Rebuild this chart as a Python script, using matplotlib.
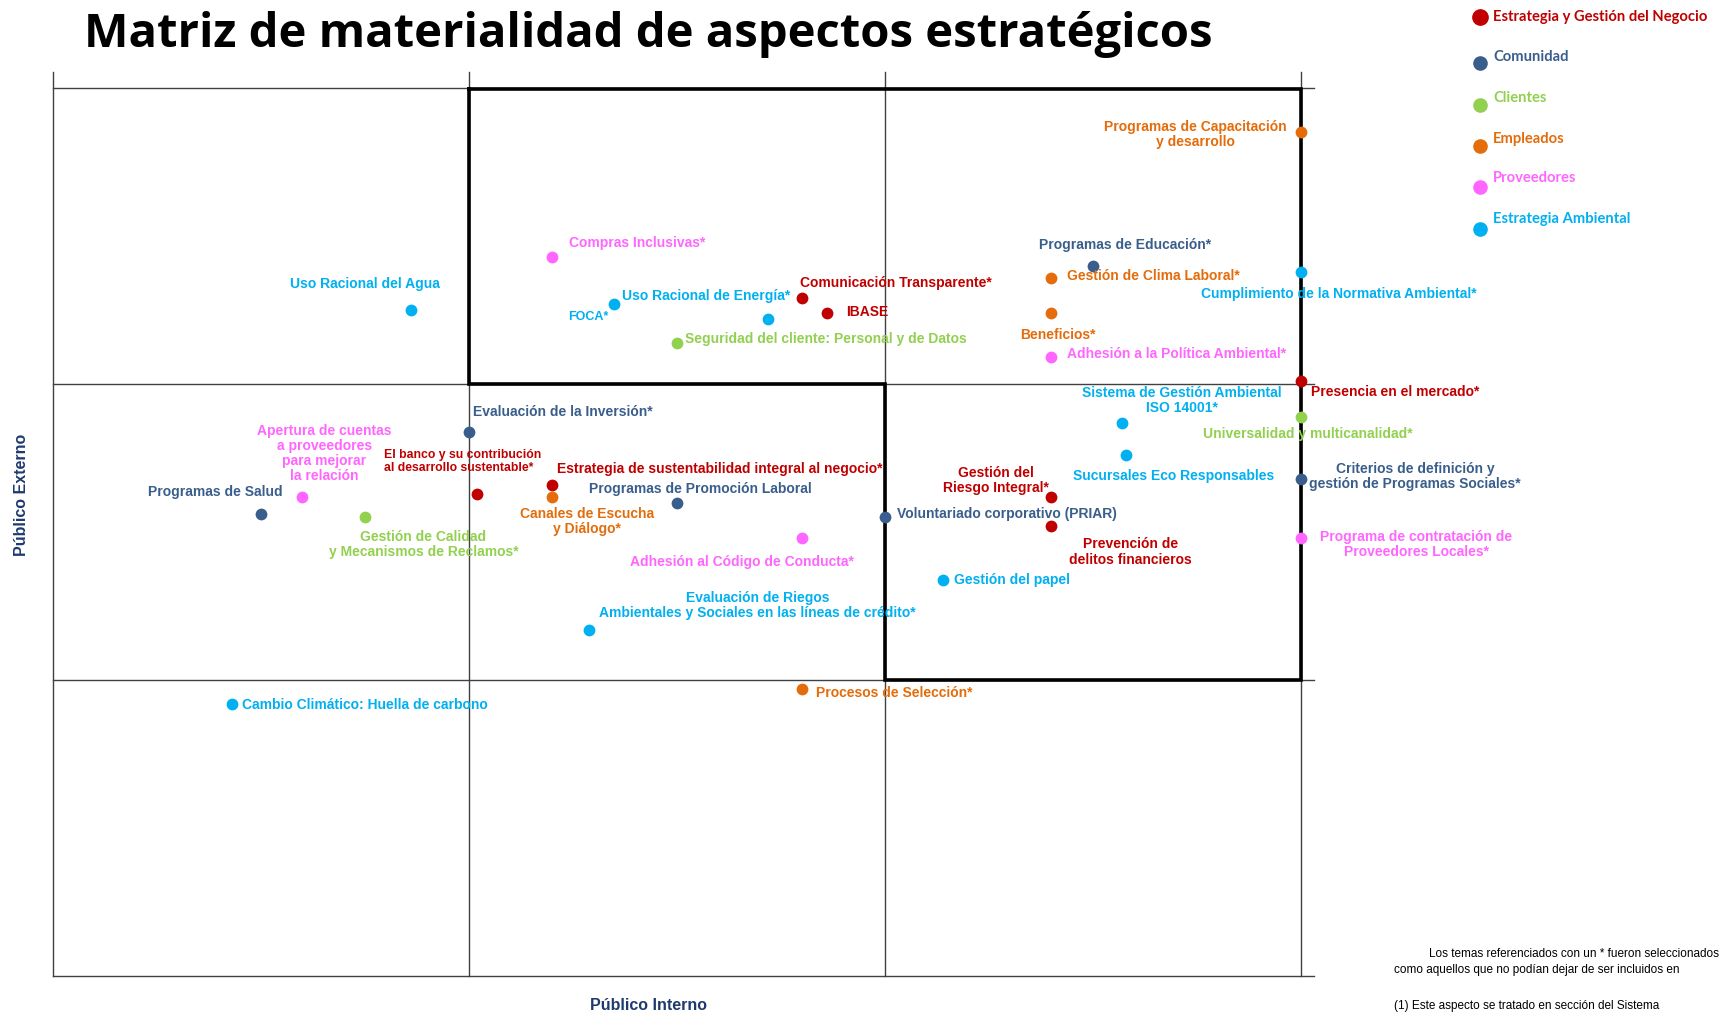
import matplotlib
matplotlib.use("Agg")
import matplotlib.pyplot as plt

plt.rcParams['font.family'] = ['Liberation Sans', 'DejaVu Sans']

# Categories (legend) and colours
categories = ['Estrategia y Gestión del Negocio', 'Comunidad', 'Clientes',
              'Empleados', 'Proveedores', 'Estrategia Ambiental']
cat_colors = ['#C00000', '#3A5E8C', '#92D050', '#E46C0A', '#FF66FF', '#00B0F0']

# Aspects: label, category index, Público Interno (x), Público Externo (y)
labels = [
    'Programas de Capacitación\ny desarrollo',
    'Compras Inclusivas*',
    'Programas de Educación*',
    'Gestión de Clima Laboral*',
    'Cumplimiento de la Normativa Ambiental*',
    'Uso Racional del Agua',
    'Uso Racional de Energía*',
    'FOCA*',
    'Comunicación Transparente*',
    'IBASE',
    'Seguridad del cliente: Personal y de Datos',
    'Beneficios*',
    'Adhesión a la Política Ambiental*',
    'Presencia en el mercado*',
    'Evaluación de la Inversión*',
    'Sistema de Gestión Ambiental\nISO 14001*',
    'Universalidad y multicanalidad*',
    'Sucursales Eco Responsables',
    'Criterios de definición y\ngestión de Programas Sociales*',
    'El banco y su contribución\nal desarrollo sustentable*',
    'Estrategia de sustentabilidad integral al negocio*',
    'Canales de Escucha\ny Diálogo*',
    'Programas de Promoción Laboral',
    'Apertura de cuentas\na proveedores\npara mejorar\nla relación',
    'Programas de Salud',
    'Gestión de Calidad\ny Mecanismos de Reclamos*',
    'Gestión del\nRiesgo Integral*',
    'Voluntariado corporativo (PRIAR)',
    'Prevención de\ndelitos financieros',
    'Adhesión al Código de Conducta*',
    'Programa de contratación de\nProveedores Locales*',
    'Gestión del papel',
    'Evaluación de Riegos\nAmbientales y Sociales en las líneas de crédito*',
    'Cambio Climático: Huella de carbono',
    'Procesos de Selección*',
]
category = [3, 4, 1, 3, 5, 5, 5, 5, 0, 0, 2, 3, 4, 0, 1, 5, 2, 5, 1, 0,
            0, 3, 1, 4, 1, 2, 0, 1, 0, 4, 4, 5, 5, 5, 3]
interno = [3.00, 1.20, 2.50, 2.40, 3.00, 0.86, 1.35, 1.72, 1.80, 1.86,
           1.50, 2.40, 2.40, 3.00, 1.00, 2.57, 3.00, 2.58, 3.00, 1.02,
           1.20, 1.20, 1.50, 0.60, 0.50, 0.75, 2.40, 2.00, 2.40, 1.80,
           3.00, 2.14, 1.29, 0.43, 1.80]
externo = [2.85, 2.43, 2.40, 2.36, 2.38, 2.25, 2.27, 2.22, 2.29, 2.24,
           2.14, 2.24, 2.09, 2.01, 1.84, 1.87, 1.89, 1.76, 1.68, 1.63,
           1.66, 1.62, 1.60, 1.62, 1.56, 1.55, 1.62, 1.55, 1.52, 1.48,
           1.48, 1.34, 1.17, 0.92, 0.97]

# label anchor (x, y, ha) in data units
label_pos = [
    (2.746, 2.842, 'center'), (1.240, 2.477, 'left'), (2.577, 2.469, 'center'),
    (2.437, 2.365, 'left'), (2.760, 2.306, 'left'), (0.751, 2.339, 'center'),
    (1.369, 2.298, 'left'), (1.335, 2.228, 'right'), (1.797, 2.343, 'left'),
    (1.906, 2.243, 'left'), (1.520, 2.154, 'left'), (2.326, 2.165, 'left'),
    (2.437, 2.102, 'left'), (3.024, 1.972, 'left'), (1.010, 1.905, 'left'),
    (2.715, 1.944, 'center'), (2.765, 1.831, 'left'), (2.453, 1.689, 'left'),
    (3.275, 1.688, 'center'), (0.796, 1.739, 'left'), (1.211, 1.715, 'left'),
    (1.285, 1.535, 'center'), (1.290, 1.645, 'left'), (0.653, 1.765, 'center'),
    (0.552, 1.637, 'right'), (0.891, 1.459, 'center'), (2.268, 1.675, 'center'),
    (2.030, 1.563, 'left'), (2.590, 1.433, 'center'), (1.388, 1.400, 'left'),
    (3.278, 1.459, 'center'), (2.167, 1.337, 'left'), (1.694, 1.251, 'center'),
    (0.455, 0.917, 'left'), (1.834, 0.958, 'left'),
]

W, H = 1724, 1014
fig = plt.figure(figsize=(W / 100, H / 100), dpi=100)


def fpos(x, y):
    return x / W, 1 - y / H


ax = fig.add_axes([0.0306, 0.0371, 0.7239, 0.8761])
ax.set_xlim(0, 3)
ax.set_ylim(0, 3)
ax.axis('off')

# thin grid
for v in range(4):
    ax.plot([v, v], [0, 3.055], color='#404040', lw=1, clip_on=False, zorder=1)
    ax.plot([0, 3.032], [v, v], color='#404040', lw=1, clip_on=False, zorder=1)

# thick outline of the material zone
ax.plot([1, 3, 3, 2, 2, 1, 1], [2.995, 2.995, 1, 1, 2, 2, 2.995], color='black',
        lw=2.6, clip_on=False, zorder=2, solid_joinstyle='miter')

for i, lab in enumerate(labels):
    c = cat_colors[category[i]]
    ax.scatter(interno[i], externo[i], s=72, color=c, zorder=4, clip_on=False,
               linewidths=0)
    tx, ty, ha = label_pos[i]
    fs = 8.8 if lab.startswith('El banco') else (9 if lab == 'FOCA*' else 10)
    ax.text(tx, ty, lab, color=c, fontsize=fs, fontweight='bold', ha=ha,
            va='center', multialignment='center' if ha == 'center' else 'left',
            linespacing=1.1, zorder=5)

# title
fig.text(*fpos(84, 47), 'Matriz de materialidad de aspectos estratégicos',
         fontsize=34, fontweight='bold', family=['Open Sans', 'DejaVu Sans'],
         ha='left', va='baseline', color='black')

# legend
leg_dot_y = [16.5, 62.7, 104.5, 146, 187, 229]
leg_txt_y = [16.5, 57, 98, 138.5, 178, 219]
for i, cat in enumerate(categories):
    fx, fy = fpos(1480, leg_dot_y[i])
    fig.add_artist(plt.Line2D([fx], [fy], marker='o', color=cat_colors[i],
                              markersize=11 if i == 0 else 9.5, linestyle='none',
                              transform=fig.transFigure))
    fig.text(*fpos(1493, leg_txt_y[i]), cat, color=cat_colors[i], fontsize=10.6,
             fontweight='bold', family=['Lato', 'DejaVu Sans'], ha='left',
             va='center')

# axis titles
fig.text(*fpos(22, 495), 'Público Externo', rotation=90, fontsize=11.5,
         fontweight='bold', color='#1F3A6E', ha='center', va='center')
fig.text(*fpos(649, 1005), 'Público Interno', fontsize=11.5,
         fontweight='bold', color='#1F3A6E', ha='center', va='center')

# footnotes
fig.text(*fpos(1429, 954), 'Los temas referenciados con un * fueron seleccionados',
         fontsize=8.5, ha='left', va='center', color='black')
fig.text(*fpos(1394, 970), 'como aquellos que no podían dejar de ser incluidos en',
         fontsize=8.5, ha='left', va='center', color='black')
fig.text(*fpos(1394, 1012), '(1) Este aspecto se tratado en sección del Sistema',
         fontsize=8.5, ha='left', va='bottom', color='black')

fig.savefig('out.png', dpi=100, facecolor='white')
